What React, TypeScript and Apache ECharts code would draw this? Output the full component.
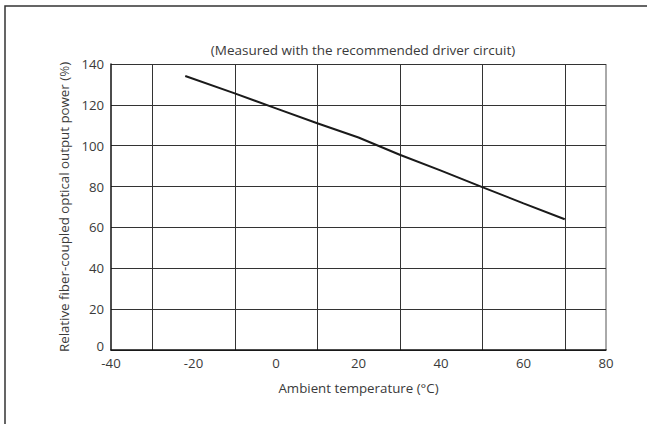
import React, { useEffect, useRef } from "react";
import * as echarts from "echarts";

const temperatures = [-22, -10, 0, 10, 20, 30, 40, 50, 60, 70];
const relPower = [134.1, 125.6, 118.3, 111, 104, 95.6, 87.8, 79.7, 71.8, 64];
const title = "(Measured with the recommended driver circuit)";
const xName = "Ambient temperature (\u00B0C)";
const yName = "Relative fiber-coupled optical output power (%)";

export default function App() {
  const ref = useRef<HTMLDivElement>(null);
  useEffect(() => {
    if (!ref.current) return;
    const chart = echarts.init(ref.current, null, { renderer: "svg" });
    const font = "'Open Sans', 'Noto Sans', sans-serif";
    const txt = "#3a3a3a";
    chart.setOption({
      animation: false,
      backgroundColor: "#fff",
      title: {
        text: title,
        left: 358,
        top: 38,
        textAlign: "center",
        textStyle: { fontFamily: font, fontSize: 13.5, fontWeight: "normal", color: txt },
      },
      grid: { left: 111, right: 41, top: 64, bottom: 74, show: false },
      xAxis: {
        type: "value",
        min: -40,
        max: 80,
        interval: 20,
        name: xName,
        nameLocation: "middle",
        nameGap: 31,
        nameTextStyle: { fontFamily: font, fontSize: 13.3, color: txt },
        axisLine: { show: true, onZero: false, lineStyle: { color: "#111", width: 1.5 } },
        axisTick: { show: false },
        axisLabel: { fontFamily: font, fontSize: 13.2, color: txt, margin: 6 },
        splitLine: { show: false },
        minorTick: { show: false, splitNumber: 2 },
        minorSplitLine: { show: true, lineStyle: { color: "#333", width: 1 } },
      },
      yAxis: {
        type: "value",
        min: 0,
        max: 140,
        interval: 20,
        name: yName,
        nameLocation: "middle",
        nameGap: 39,
        nameTextStyle: { fontFamily: font, fontSize: 13.3, color: txt },
        axisLine: { show: true, onZero: false, lineStyle: { color: "#111", width: 1.5 } },
        axisTick: { show: false },
        axisLabel: {
          fontFamily: font,
          fontSize: 13.2,
          color: txt,
          margin: 7,
          formatter: (v: number) => (v === 0 ? "{z|0}" : String(v)),
          rich: {
            z: { fontFamily: font, fontSize: 13.2, color: txt, padding: [0, 0, 9, 0] },
          },
        },
        splitLine: { show: true, lineStyle: { color: "#333", width: 1 } },
      },
      series: [
        {
          type: "line",
          data: temperatures.map((t, i) => [t, relPower[i]]),
          showSymbol: false,
          symbol: "none",
          lineStyle: { color: "#1a1a1a", width: 2 },
        },
      ],
      graphic: [
        {
          type: "rect",
          shape: { x: 5, y: 6, width: 700, height: 500 },
          style: { fill: "none", stroke: "#333", lineWidth: 1.5 },
          silent: true,
        },
        {
          type: "line",
          shape: { x1: 606, y1: 64, x2: 606, y2: 350 },
          style: { stroke: "#555", lineWidth: 1 },
          silent: true,
        },
      ],
    });
    return () => chart.dispose();
  }, []);
  return (
    <div
      ref={ref}
      style={{ position: "fixed", left: 0, top: 0, width: 647, height: 424 }}
    />
  );
}
